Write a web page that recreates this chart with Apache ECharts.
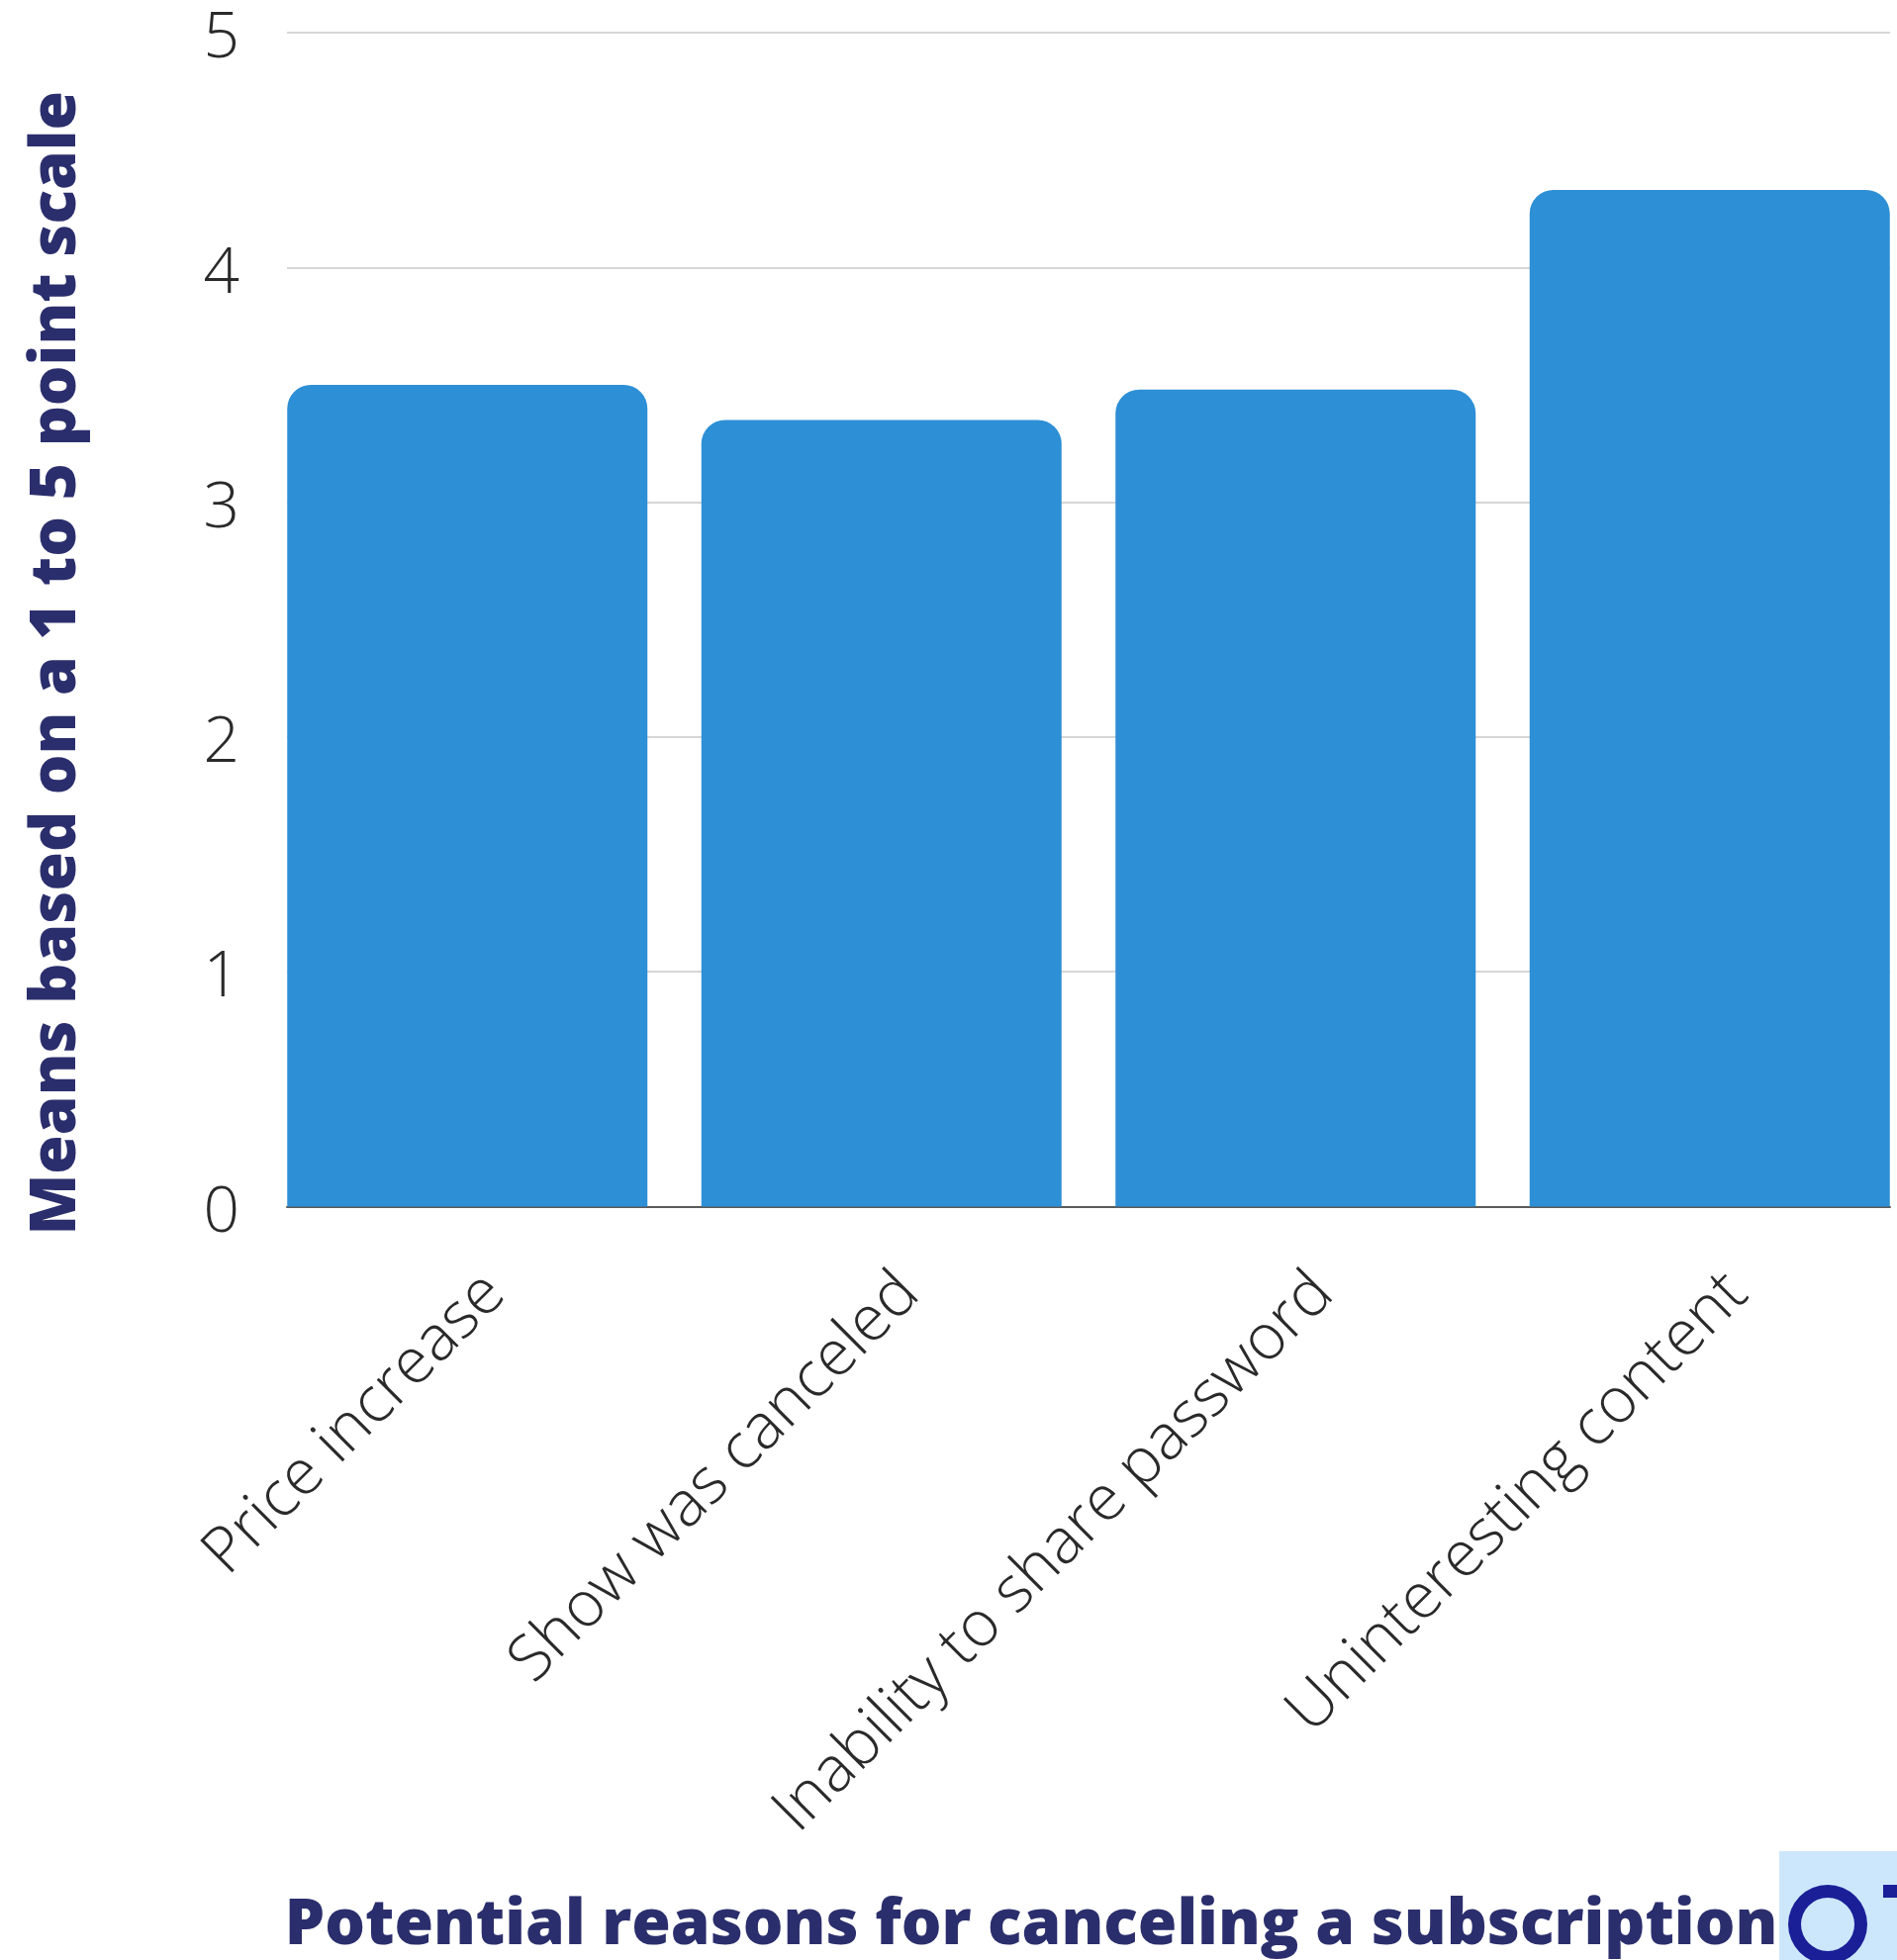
<!DOCTYPE html>
<html>
<head>
<meta charset="utf-8">
<script src="https://cdn.jsdelivr.net/npm/echarts@6/dist/echarts.min.js"></script>
<style>
  html, body { margin: 0; padding: 0; background: #ffffff; }
  #chart { width: 1917px; height: 1981px; }
</style>
</head>
<body>
<div id="chart"></div>
<script>
// Reasons for canceling a streaming subscription, mean rating on a 1–5 scale
const categories = ['Price increase', 'Show was canceled', 'Inability to share password', 'Uninteresting content'];
const means = [3.50, 3.35, 3.48, 4.33];
const yMin = 0;
const yMax = 5;
const yStep = 1;

const yAxisTitle = 'Means based on a 1 to 5 point scale';
const xAxisTitle = 'Potential reasons for canceling a subscription';

const navy = '#2B2E6C';
const barBlue = '#2D8FD5';
const lightFont = { fontFamily: 'Open Sans', fontWeight: 300, color: '#2a2a2a', fontSize: 64 };

const chart = echarts.init(document.getElementById('chart'), null, { renderer: 'canvas' });

chart.setOption({
  backgroundColor: '#ffffff',
  animation: false,
  grid: [
    // bars: bands run flush from the first bar's left edge to the last bar's right edge
    { left: 263, width: 1674, top: 33, bottom: 761.5, outerBoundsMode: 'none' },
    // gridlines, value ticks and the baseline
    { left: 290, right: 7, top: 33, bottom: 761.5, outerBoundsMode: 'none' },
    // rotated category labels
    { left: 291, width: 1674, top: 33, bottom: 761.5, outerBoundsMode: 'none' }
  ],
  xAxis: [
    {
      gridIndex: 0, type: 'category', data: categories,
      axisLine: { show: false }, axisTick: { show: false }, axisLabel: { show: false }
    },
    {
      gridIndex: 1, type: 'category', data: categories,
      axisLine: { show: true, lineStyle: { color: '#5a5a5a', width: 2 } },
      axisTick: { show: false }, axisLabel: { show: false },
      name: xAxisTitle, nameLocation: 'middle', nameGap: 695,
      nameTextStyle: {
        fontFamily: 'Open Sans', fontWeight: 800, fontSize: 64, color: navy,
        padding: [0, 116, 0, 0]
      }
    },
    {
      gridIndex: 2, type: 'category', data: categories,
      axisLine: { show: false }, axisTick: { show: false },
      axisLabel: Object.assign({ rotate: 45, interval: 0, margin: 78 }, lightFont)
    }
  ],
  yAxis: [
    { gridIndex: 0, type: 'value', min: yMin, max: yMax, interval: yStep, show: false },
    {
      gridIndex: 1, type: 'value', min: yMin, max: yMax, interval: yStep,
      axisLine: { show: false }, axisTick: { show: false },
      splitLine: { show: true, lineStyle: { color: '#d6d6d6', width: 2 } },
      axisLabel: Object.assign({
        margin: 48,
        formatter: '{v|{value}}',
        rich: { v: Object.assign({ padding: [14, 0, 0, 0] }, lightFont) }
      }, lightFont),
      name: yAxisTitle, nameLocation: 'middle', nameRotate: 90, nameGap: 200,
      nameTextStyle: {
        fontFamily: 'Open Sans', fontWeight: 800, fontSize: 64, color: navy,
        padding: [0, 88, 0, 0]
      }
    },
    { gridIndex: 2, type: 'value', min: yMin, max: yMax, show: false }
  ],
  series: [
    {
      type: 'bar',
      xAxisIndex: 0, yAxisIndex: 0,
      data: means,
      barWidth: 364,
      itemStyle: { color: barBlue, borderRadius: [24, 24, 0, 0] },
      z: 3
    }
  ],
  graphic: [
    // corner logo, partly cut by the page edge
    { type: 'rect', left: 1798, top: 1871, shape: { width: 119, height: 110 }, style: { fill: '#CCE7FC' }, z: 10 },
    { type: 'ring', shape: { cx: 1847, cy: 1945, r: 40, r0: 27 }, style: { fill: '#1A1F98' }, z: 11 },
    { type: 'rect', left: 1903, top: 1905, shape: { width: 14, height: 13 }, style: { fill: '#1A1F98' }, z: 11 }
  ]
});
</script>
</body>
</html>
